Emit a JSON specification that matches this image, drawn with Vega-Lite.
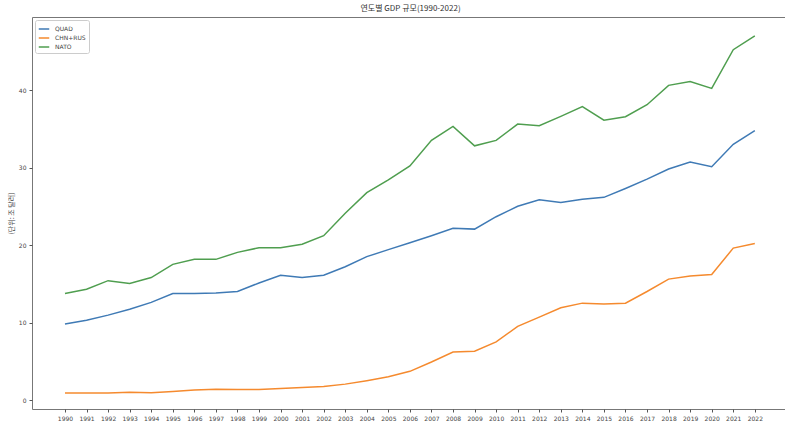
{
  "$schema": "https://vega.github.io/schema/vega-lite/v6.json",
  "autosize": {"type": "none"},
  "padding": {"left": 32, "top": 17, "right": 0, "bottom": 15},
  "width": 753,
  "height": 392,
  "background": "white",
  "title": {
    "text": "연도별 GDP 규모(1990-2022)",
    "font": "Noto Sans CJK KR",
    "fontSize": 8,
    "fontWeight": "normal",
    "color": "#333",
    "anchor": "middle",
    "offset": 4,
    "dx": 2
  },
  "config": {
    "view": {"stroke": "#777", "strokeWidth": 1},
    "axis": {
      "grid": false,
      "domain": false,
      "tickColor": "#555",
      "tickSize": 3,
      "labelFont": "DejaVu Sans",
      "labelFontSize": 6,
      "labelColor": "#444",
      "titleFont": "Noto Sans CJK KR",
      "titleFontSize": 7,
      "titleFontWeight": "normal",
      "titleColor": "#444"
    }
  },
  "data": {
    "values": [
      {"year": 1990, "group": "QUAD", "value": 9.8},
      {"year": 1991, "group": "QUAD", "value": 10.3},
      {"year": 1992, "group": "QUAD", "value": 10.95},
      {"year": 1993, "group": "QUAD", "value": 11.7},
      {"year": 1994, "group": "QUAD", "value": 12.6},
      {"year": 1995, "group": "QUAD", "value": 13.75},
      {"year": 1996, "group": "QUAD", "value": 13.75},
      {"year": 1997, "group": "QUAD", "value": 13.8},
      {"year": 1998, "group": "QUAD", "value": 14.0},
      {"year": 1999, "group": "QUAD", "value": 15.1},
      {"year": 2000, "group": "QUAD", "value": 16.1},
      {"year": 2001, "group": "QUAD", "value": 15.8},
      {"year": 2002, "group": "QUAD", "value": 16.1},
      {"year": 2003, "group": "QUAD", "value": 17.2},
      {"year": 2004, "group": "QUAD", "value": 18.5},
      {"year": 2005, "group": "QUAD", "value": 19.4},
      {"year": 2006, "group": "QUAD", "value": 20.3},
      {"year": 2007, "group": "QUAD", "value": 21.2},
      {"year": 2008, "group": "QUAD", "value": 22.15},
      {"year": 2009, "group": "QUAD", "value": 22.05},
      {"year": 2010, "group": "QUAD", "value": 23.65},
      {"year": 2011, "group": "QUAD", "value": 25.0},
      {"year": 2012, "group": "QUAD", "value": 25.85},
      {"year": 2013, "group": "QUAD", "value": 25.5},
      {"year": 2014, "group": "QUAD", "value": 25.9},
      {"year": 2015, "group": "QUAD", "value": 26.15},
      {"year": 2016, "group": "QUAD", "value": 27.3},
      {"year": 2017, "group": "QUAD", "value": 28.5},
      {"year": 2018, "group": "QUAD", "value": 29.8},
      {"year": 2019, "group": "QUAD", "value": 30.7},
      {"year": 2020, "group": "QUAD", "value": 30.1},
      {"year": 2021, "group": "QUAD", "value": 33.0},
      {"year": 2022, "group": "QUAD", "value": 34.75},
      {"year": 1990, "group": "CHN+RUS", "value": 0.9},
      {"year": 1991, "group": "CHN+RUS", "value": 0.9},
      {"year": 1992, "group": "CHN+RUS", "value": 0.9},
      {"year": 1993, "group": "CHN+RUS", "value": 1.0},
      {"year": 1994, "group": "CHN+RUS", "value": 0.95},
      {"year": 1995, "group": "CHN+RUS", "value": 1.1},
      {"year": 1996, "group": "CHN+RUS", "value": 1.3},
      {"year": 1997, "group": "CHN+RUS", "value": 1.4},
      {"year": 1998, "group": "CHN+RUS", "value": 1.35},
      {"year": 1999, "group": "CHN+RUS", "value": 1.35},
      {"year": 2000, "group": "CHN+RUS", "value": 1.5},
      {"year": 2001, "group": "CHN+RUS", "value": 1.6},
      {"year": 2002, "group": "CHN+RUS", "value": 1.75},
      {"year": 2003, "group": "CHN+RUS", "value": 2.05},
      {"year": 2004, "group": "CHN+RUS", "value": 2.5},
      {"year": 2005, "group": "CHN+RUS", "value": 3.0},
      {"year": 2006, "group": "CHN+RUS", "value": 3.7},
      {"year": 2007, "group": "CHN+RUS", "value": 4.9},
      {"year": 2008, "group": "CHN+RUS", "value": 6.2},
      {"year": 2009, "group": "CHN+RUS", "value": 6.3},
      {"year": 2010, "group": "CHN+RUS", "value": 7.5},
      {"year": 2011, "group": "CHN+RUS", "value": 9.5},
      {"year": 2012, "group": "CHN+RUS", "value": 10.7},
      {"year": 2013, "group": "CHN+RUS", "value": 11.9},
      {"year": 2014, "group": "CHN+RUS", "value": 12.5},
      {"year": 2015, "group": "CHN+RUS", "value": 12.4},
      {"year": 2016, "group": "CHN+RUS", "value": 12.5},
      {"year": 2017, "group": "CHN+RUS", "value": 14.0},
      {"year": 2018, "group": "CHN+RUS", "value": 15.6},
      {"year": 2019, "group": "CHN+RUS", "value": 16.0},
      {"year": 2020, "group": "CHN+RUS", "value": 16.2},
      {"year": 2021, "group": "CHN+RUS", "value": 19.6},
      {"year": 2022, "group": "CHN+RUS", "value": 20.2},
      {"year": 1990, "group": "NATO", "value": 13.75},
      {"year": 1991, "group": "NATO", "value": 14.3},
      {"year": 1992, "group": "NATO", "value": 15.4},
      {"year": 1993, "group": "NATO", "value": 15.05},
      {"year": 1994, "group": "NATO", "value": 15.8},
      {"year": 1995, "group": "NATO", "value": 17.5},
      {"year": 1996, "group": "NATO", "value": 18.15},
      {"year": 1997, "group": "NATO", "value": 18.15},
      {"year": 1998, "group": "NATO", "value": 19.05},
      {"year": 1999, "group": "NATO", "value": 19.65},
      {"year": 2000, "group": "NATO", "value": 19.65},
      {"year": 2001, "group": "NATO", "value": 20.1},
      {"year": 2002, "group": "NATO", "value": 21.2},
      {"year": 2003, "group": "NATO", "value": 24.1},
      {"year": 2004, "group": "NATO", "value": 26.75},
      {"year": 2005, "group": "NATO", "value": 28.4},
      {"year": 2006, "group": "NATO", "value": 30.2},
      {"year": 2007, "group": "NATO", "value": 33.5},
      {"year": 2008, "group": "NATO", "value": 35.3},
      {"year": 2009, "group": "NATO", "value": 32.8},
      {"year": 2010, "group": "NATO", "value": 33.5},
      {"year": 2011, "group": "NATO", "value": 35.6},
      {"year": 2012, "group": "NATO", "value": 35.4},
      {"year": 2013, "group": "NATO", "value": 36.6},
      {"year": 2014, "group": "NATO", "value": 37.85},
      {"year": 2015, "group": "NATO", "value": 36.1},
      {"year": 2016, "group": "NATO", "value": 36.55},
      {"year": 2017, "group": "NATO", "value": 38.1},
      {"year": 2018, "group": "NATO", "value": 40.6},
      {"year": 2019, "group": "NATO", "value": 41.1},
      {"year": 2020, "group": "NATO", "value": 40.2},
      {"year": 2021, "group": "NATO", "value": 45.2},
      {"year": 2022, "group": "NATO", "value": 47.0}
    ]
  },
  "mark": {"type": "line", "strokeWidth": 1.5, "clip": true},
  "encoding": {
    "x": {
      "field": "year",
      "type": "quantitative",
      "scale": {"domain": [1988.47, 2023.4], "nice": false, "zero": false},
      "axis": {
        "title": null,
        "values": [1990,1991,1992,1993,1994,1995,1996,1997,1998,1999,2000,2001,2002,2003,2004,2005,2006,2007,2008,2009,2010,2011,2012,2013,2014,2015,2016,2017,2018,2019,2020,2021,2022],
        "format": "d",
        "labelPadding": 3,
        "labelOverlap": false
      }
    },
    "y": {
      "field": "value",
      "type": "quantitative",
      "scale": {"domain": [-1.16, 49.42], "nice": false, "zero": false},
      "axis": {
        "title": "(단위: 조 달러)",
        "values": [0, 10, 20, 30, 40],
        "labelPadding": 3,
        "titlePadding": 4
      }
    },
    "color": {
      "field": "group",
      "type": "nominal",
      "sort": ["QUAD", "CHN+RUS", "NATO"],
      "scale": {
        "domain": ["QUAD", "CHN+RUS", "NATO"],
        "range": ["#3f7ab5", "#f58a2e", "#4f9e4f"]
      },
      "legend": {
        "title": null,
        "orient": "none",
        "legendX": 3,
        "legendY": 3,
        "symbolType": "stroke",
        "symbolStrokeWidth": 1.5,
        "symbolSize": 110,
        "labelFont": "DejaVu Sans",
        "labelFontSize": 6,
        "labelColor": "#444",
        "labelOffset": 5,
        "rowPadding": 0,
        "padding": 3,
        "strokeColor": "#ccc",
        "fillColor": "white",
        "cornerRadius": 2
      }
    }
  }
}
